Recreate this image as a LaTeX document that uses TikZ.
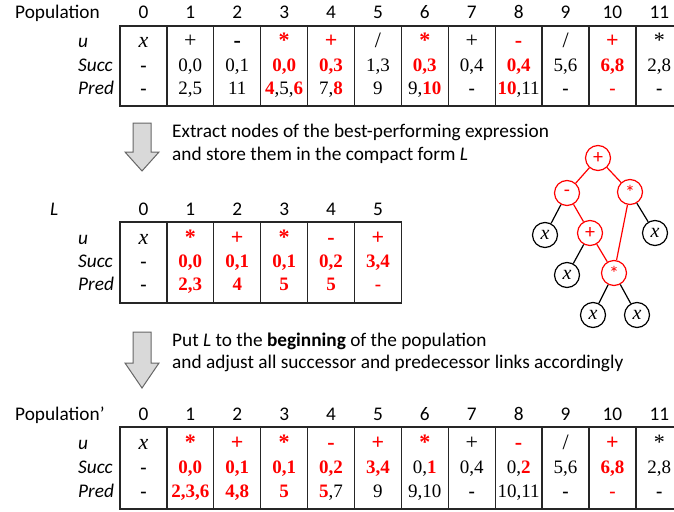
\documentclass[tikz,border=0pt]{standalone}
\usepackage{fontspec}
\setmainfont{Carlito}
\newfontfamily\tnr{Liberation Serif}
\definecolor{myred}{RGB}{255,0,0}
\newcommand\R[1]{{\color{myred}\bfseries #1}}
\newcommand\D{\textbf{-}}
\newcommand\X{{\itshape x}}
\begin{document}
\begin{tikzpicture}[x=1pt,y=-1pt,
  tab/.style={line width=1.3pt, draw=black!85},
  cell/.style={font=\tnr\fontsize{19}{21}\selectfont, inner sep=0pt, text height=12.8pt, text depth=0pt, anchor=center},
  ucell/.style={font=\tnr\fontsize{22}{24}\selectfont, inner sep=0pt, text height=12.8pt, text depth=0pt, anchor=center},
  hdr/.style={font=\fontsize{19.3}{22}\selectfont, inner sep=0pt, text height=12.2pt, text depth=0pt},
  rowlab/.style={font=\fontsize{19.3}{22}\selectfont\itshape, inner sep=0pt, text height=12.2pt, text depth=0pt, anchor=west},
  txt/.style={font=\fontsize{19.3}{22}\selectfont, inner sep=0pt, anchor=base west},
  bigarrow/.style={fill=black!15, draw=black!60, line width=1pt, line join=miter},
  op/.style={circle, draw=myred, text=myred, minimum size=25pt, inner sep=0pt, line width=1.2pt, font=\fontsize{20}{21}\selectfont},
  leaf/.style={circle, draw=black, minimum size=25pt, inner sep=0pt, line width=1.2pt, font=\tnr\itshape\fontsize{20}{21}\selectfont},
  redge/.style={draw=myred, line width=1.2pt},
  bedge/.style={draw=black, line width=1.2pt}]
\useasboundingbox (0,0) rectangle (674,511);

% ---------- Top table: Population ----------
\node[hdr, anchor=west] (poplab) at (15,12) {Population};
\draw[tab] (120,26) rectangle (682.8,106);
\foreach \k in {1,...,11} \draw[tab] ({120+46.9*\k},26) -- ({120+46.9*\k},106);
\foreach \k in {0,...,11} \node[hdr] (p-h\k) at ({143.45+46.9*\k},12) {\k};
\node[rowlab] (p-lu) at (78,41) {u};
\node[rowlab] (p-ls) at (78,65) {Succ};
\node[rowlab] (p-lp) at (78,88) {Pred};
\foreach \c [count=\i from 0] in {\X,+,\D,\R{*},\R{+},/,\R{*},+,\R{-},/,\R{+},*}
  \node[ucell] (p-u\i) at ({143.45+46.9*\i},41) {\c};
\foreach \c [count=\i from 0] in {\D,{0,0},{0,1},\R{0,0},\R{0,3},{1,3},\R{0,3},{0,4},\R{0,4},{5,6},\R{6,8},{2,8}}
  \node[cell] (p-s\i) at ({143.45+46.9*\i},65) {\c};
\foreach \c [count=\i from 0] in {\D,{2,5},11,{\R{4},5,\R{6}},{7,\R{8}},9,{9,\R{10}},\D,{\R{10},11},\D,\R{-},\D}
  \node[cell] (p-p\i) at ({143.45+46.9*\i},88) {\c};

% ---------- Arrow 1 and text ----------
\filldraw[bigarrow] (133,123) -- (151,123) -- (151,152) -- (159,152) -- (142,171) -- (125,152) -- (133,152) -- cycle;
\node[txt] (t1a) at (172,137) {Extract nodes of the best-performing expression};
\node[txt] (t1b) at (172,160.5) {and store them in the compact form \textit{L}};

% ---------- Middle table: L ----------
\node[rowlab] (llab) at (50,209) {L};
\draw[tab] (120,222) rectangle ({120+46.9*6},303);
\foreach \k in {1,...,5} \draw[tab] ({120+46.9*\k},222) -- ({120+46.9*\k},303);
\foreach \k in {0,...,5} \node[hdr] (l-h\k) at ({143.45+46.9*\k},209) {\k};
\node[rowlab] (l-lu) at (78,238) {u};
\node[rowlab] (l-ls) at (78,261) {Succ};
\node[rowlab] (l-lp) at (78,284) {Pred};
\foreach \c [count=\i from 0] in {\X,\R{*},\R{+},\R{*},\R{-},\R{+}}
  \node[ucell] (l-u\i) at ({143.45+46.9*\i},238) {\c};
\foreach \c [count=\i from 0] in {\D,\R{0,0},\R{0,1},\R{0,1},\R{0,2},\R{3,4}}
  \node[cell] (l-s\i) at ({143.45+46.9*\i},261) {\c};
\foreach \c [count=\i from 0] in {\D,\R{2,3},\R{4},\R{5},\R{5},\R{-}}
  \node[cell] (l-p\i) at ({143.45+46.9*\i},284) {\c};

% ---------- Tree ----------
\node[op] (n1) at (598,158) {+};
\node[op] (n2) at (567,193) {-};
\node[op] (n3) at (630,192) {*};
\node[leaf] (n4) at (545,235) {x};
\node[op] (n5) at (590,233) {+};
\node[leaf] (n6) at (655,233) {x};
\node[leaf] (n7) at (567,275) {x};
\node[op] (n8) at (614,273) {*};
\node[leaf] (n9) at (593,315) {x};
\node[leaf] (n10) at (637,315) {x};
\draw[redge] (n1) -- (n2);
\draw[redge] (n1) -- (n3);
\draw[bedge] (n2) -- (n4);
\draw[redge] (n2) -- (n5);
\draw[bedge] (n3) -- (n6);
\draw[redge] (n3) -- (n8);
\draw[bedge] (n5) -- (n7);
\draw[redge] (n5) -- (n8);
\draw[bedge] (n8) -- (n9);
\draw[bedge] (n8) -- (n10);

% ---------- Arrow 2 and text ----------
\filldraw[bigarrow] (133,332) -- (151,332) -- (151,363) -- (159,363) -- (142,388) -- (125,363) -- (133,363) -- cycle;
\node[txt] (t2a) at (172,346) {Put \textit{L} to the \textbf{beginning} of the population};
\node[txt] (t2b) at (172,368.5) {and adjust all successor and predecessor links accordingly};

% ---------- Bottom table: Population' ----------
\node[hdr, anchor=west] (pop2lab) at (15,414) {Population’};
\draw[tab] (120,427) rectangle (682.8,509);
\foreach \k in {1,...,11} \draw[tab] ({120+46.9*\k},427) -- ({120+46.9*\k},509);
\foreach \k in {0,...,11} \node[hdr] (q-h\k) at ({143.45+46.9*\k},414) {\k};
\node[rowlab] (q-lu) at (78,443) {u};
\node[rowlab] (q-ls) at (78,467) {Succ};
\node[rowlab] (q-lp) at (78,491) {Pred};
\foreach \c [count=\i from 0] in {\X,\R{*},\R{+},\R{*},\R{-},\R{+},\R{*},+,\R{-},/,\R{+},*}
  \node[ucell] (q-u\i) at ({143.45+46.9*\i},443) {\c};
\foreach \c [count=\i from 0] in {\D,\R{0,0},\R{0,1},\R{0,1},\R{0,2},\R{3,4},{0,\R{1}},{0,4},{0,\R{2}},{5,6},\R{6,8},{2,8}}
  \node[cell] (q-s\i) at ({143.45+46.9*\i},467) {\c};
\foreach \c [count=\i from 0] in {\D,\R{2,3,6},\R{4,8},\R{5},{\R{5},7},9,{9,10},\D,{10,11},\D,\R{-},\D}
  \node[cell] (q-p\i) at ({143.45+46.9*\i},491) {\c};
\end{tikzpicture}
\end{document}
